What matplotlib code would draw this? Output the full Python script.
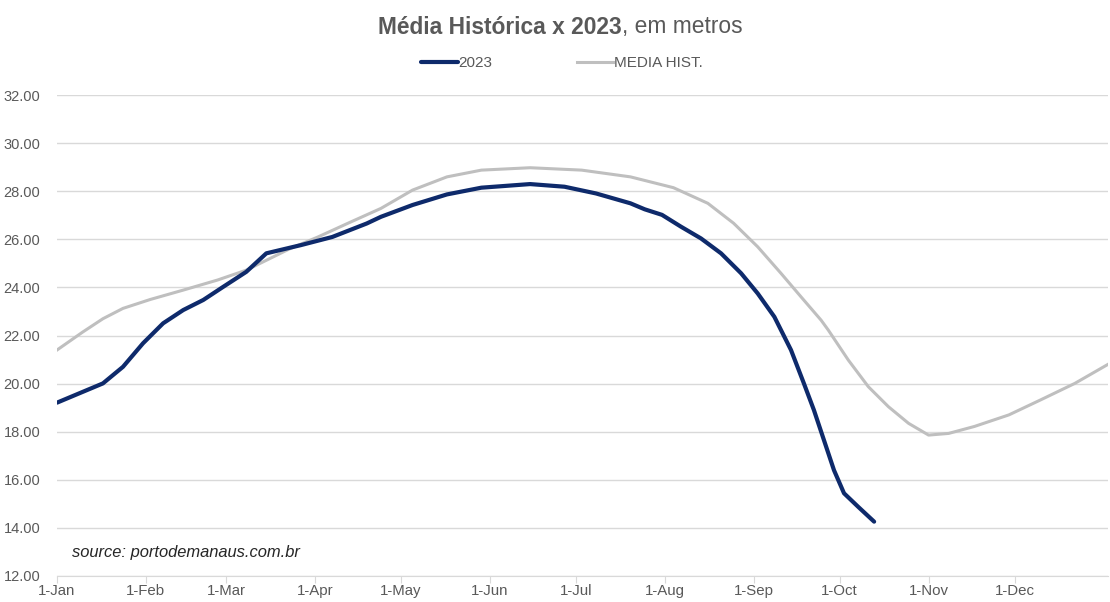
import pandas as pd
import matplotlib
matplotlib.use("Agg")
import matplotlib.pyplot as plt
import matplotlib.dates as mdates

plt.rcParams['font.family'] = ['Liberation Sans', 'DejaVu Sans']

# days after 1-Jan-2023 and river level (m)
days_2023 = [0, 9, 16, 23, 30, 37, 44, 51, 58, 66, 73, 85, 96, 108, 113, 124, 136, 148,
             165, 177, 188, 200, 205, 211, 217.6, 224.6, 231.6, 238.6, 244.4, 250.2, 256,
             260.5, 264, 267.5, 271, 274.5, 279.5, 285]
level_2023 = [19.21, 19.66, 20.01, 20.7, 21.68, 22.51, 23.06, 23.48, 24.03, 24.65, 25.42,
              25.76, 26.1, 26.66, 26.94, 27.43, 27.87, 28.15, 28.3, 28.19, 27.91, 27.5,
              27.25, 27.02, 26.53, 26.04, 25.42, 24.59, 23.75, 22.78, 21.4, 20.01, 18.9,
              17.65, 16.4, 15.44, 14.87, 14.26]

days_hist = [0, 9, 16, 23, 32.5, 44, 56, 66, 81, 91, 102, 113, 124, 136, 148, 165, 183,
             200, 215, 227, 236, 244.4, 252.5, 259.5, 266.5, 269, 276, 283, 290, 297, 304,
             311, 320, 332, 343, 355, 368]
level_hist = [21.4, 22.15, 22.7, 23.13, 23.5, 23.89, 24.31, 24.72, 25.6, 26.1, 26.7, 27.29,
              28.05, 28.6, 28.88, 28.98, 28.88, 28.6, 28.15, 27.5, 26.67, 25.69, 24.59,
              23.61, 22.64, 22.23, 20.98, 19.87, 19.04, 18.35, 17.86, 17.93, 18.22,
              18.7, 19.32, 20.01, 20.9]

start = pd.Timestamp('2023-01-01')
x23 = start + pd.to_timedelta(days_2023, unit='D')
xh = start + pd.to_timedelta(days_hist, unit='D')
month_ticks = pd.date_range('2023-01-01', '2023-12-01', freq='MS')

txt = '#595959'
fig = plt.figure(figsize=(11.1, 6.02), dpi=100)
ax = fig.add_axes([0.0514, 0.0432, 0.9466, 0.7988])

l1, = ax.plot(x23, level_2023, color='#0e2a6b', lw=3.0, solid_capstyle='round',
              solid_joinstyle='round', zorder=3, label='2023')
l2, = ax.plot(xh, level_hist, color='#bfbfbf', lw=2.2, solid_joinstyle='round', zorder=2,
              label='MEDIA HIST.')

ax.set_ylim(12, 32)
ax.set_yticks(range(12, 33, 2))
ax.yaxis.set_major_formatter(matplotlib.ticker.FormatStrFormatter('%.2f'))
ax.set_xlim(start, start + pd.Timedelta(days=366.5))
ax.set_xticks(month_ticks)
ax.xaxis.set_major_formatter(mdates.DateFormatter('%-d-%b'))

ax.grid(axis='y', color='#d9d9d9', lw=1)
ax.set_axisbelow(True)
for s in ['top', 'right', 'left']:
    ax.spines[s].set_visible(False)
ax.spines['bottom'].set_color('#d9d9d9')
ax.tick_params(axis='y', length=0, pad=12, labelsize=10.5, labelcolor=txt)
ax.tick_params(axis='x', length=5, color='#d9d9d9', pad=1, labelsize=10.8, labelcolor=txt)

t1 = fig.text(378 / 1110, 1 - 27 / 602, 'Média Histórica x 2023', fontsize=16.4,
              fontweight='bold', color=txt, ha='left', va='center')
ax.annotate(', em metros', xy=(1, 0), xycoords=t1, fontsize=16.4, color=txt,
            ha='left', va='bottom')

fig.legend(handles=[l1, l2], loc='center', bbox_to_anchor=(562 / 1110, 1 - 63 / 602), ncol=2,
           frameon=False, fontsize=11, labelcolor=txt, handlelength=2.4, handletextpad=0.05,
           columnspacing=5.5)

ax.text(72 / 1110, 1 - 553 / 602, 'source: portodemanaus.com.br', transform=fig.transFigure,
        fontsize=11.9, style='italic', color='#262626', va='center')

fig.savefig('out.png', dpi=100)
